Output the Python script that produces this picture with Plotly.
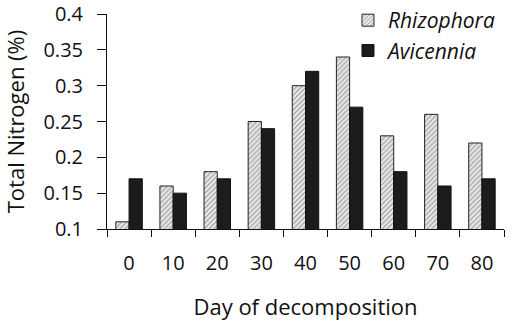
import plotly.graph_objects as go

days = ["0", "10", "20", "30", "40", "50", "60", "70", "80"]
rhizophora = [0.11, 0.16, 0.18, 0.25, 0.30, 0.34, 0.23, 0.26, 0.22]
avicennia = [0.17, 0.15, 0.17, 0.24, 0.32, 0.27, 0.18, 0.16, 0.17]
y_ticks = [0.1, 0.15, 0.2, 0.25, 0.3, 0.35, 0.4]
y_tick_labels = ["0.1", "0.15", "0.2", "0.25", "0.3", "0.35", "0.4"]

FONT = "Open Sans"

fig = go.Figure()
fig.add_trace(go.Bar(
    x=days, y=rhizophora, name="<i>Rhizophora</i>",
    marker=dict(color="#d9d9d9", line=dict(color="#222", width=1),
                pattern=dict(shape="/", fgcolor="#444", bgcolor="#e8e8e8", size=3.5, solidity=0.3)),
))
fig.add_trace(go.Bar(
    x=days, y=avicennia, name="<i>Avicennia</i>",
    marker=dict(color="#1c1c1c", line=dict(color="#111", width=1)),
))

fig.update_layout(
    width=529, height=325,
    margin=dict(l=107, r=25, t=14, b=96, autoexpand=False),
    paper_bgcolor="white", plot_bgcolor="white",
    barmode="group", bargap=0.4, bargroupgap=0,
    font=dict(family=FONT, size=20, color="#111"),
    showlegend=True,
    legend=dict(x=0.607, y=1.065, xanchor="left", yanchor="top",
                font=dict(family=FONT, size=21, color="#111"),
                bgcolor="rgba(0,0,0,0)", itemwidth=30, tracegroupgap=0),
)
fig.update_xaxes(
    type="category", showline=True, linecolor="#111", linewidth=1,
    ticks="outside", ticklen=7, tickcolor="#111", tickson="boundaries",
    showgrid=False, ticklabelstandoff=16, automargin=False,
    tickfont=dict(size=20),
    title=dict(text="Day of decomposition", standoff=24, font=dict(size=22)),
)
fig.update_yaxes(
    range=[0.1, 0.4], tickvals=y_ticks, ticktext=y_tick_labels,
    showline=True, linecolor="#111", linewidth=1,
    ticks="outside", ticklen=9, tickcolor="#111",
    showgrid=False, zeroline=False, automargin=False,
    tickfont=dict(size=20), ticklabelstandoff=10,
    title=dict(text="Total Nitrogen (%)", standoff=18, font=dict(size=22)),
)

fig.write_html("out.html", config={"displayModeBar": False},
               post_script="document.body.style.margin='0';")
